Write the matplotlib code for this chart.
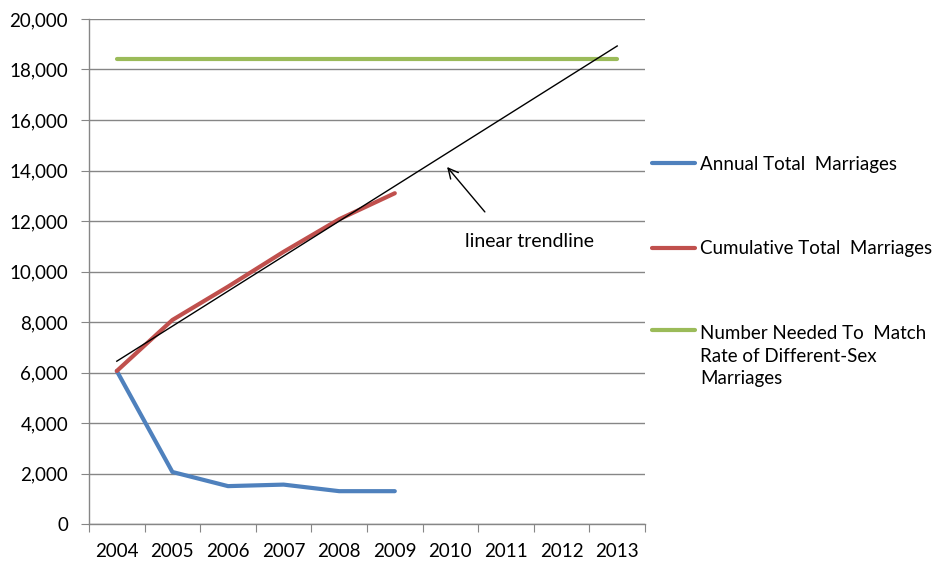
import numpy as np
import matplotlib
matplotlib.use('Agg')
import matplotlib.pyplot as plt
from matplotlib.legend_handler import HandlerLine2D
from matplotlib.ticker import FuncFormatter

years = ['2004', '2005', '2006', '2007', '2008', '2009',
         '2010', '2011', '2012', '2013']
annual = [6060, 2060, 1500, 1560, 1300, 1300]
cumulative = [6060, 8080, 9400, 10780, 12070, 13100]
needed = [18420] * 10

blue = '#4F81BD'
red = '#C0504D'
green = '#9BBB59'
grid_col = '#868686'
fs = 13.5

plt.rcParams['font.family'] = ['Lato', 'DejaVu Sans']
plt.rcParams['font.size'] = fs

fig = plt.figure(figsize=(9.36, 5.61), dpi=100)
ax = fig.add_axes([89/936, 37/561, 556/936, 505/561])

x_all = np.arange(len(years))
x_data = np.arange(len(annual))

# linear trendline of the cumulative series, forecast to 2013
coef = np.polyfit(x_data, cumulative, 1)
trend = np.polyval(coef, x_all)

ax.plot(x_all, trend, color='black', lw=1, zorder=4)
l_ann, = ax.plot(x_data, annual, color=blue, lw=3, solid_capstyle='round',
                 solid_joinstyle='round', label='Annual Total  Marriages', zorder=3)
l_cum, = ax.plot(x_data, cumulative, color=red, lw=3, solid_capstyle='round',
                 solid_joinstyle='round', label='Cumulative Total  Marriages', zorder=3)
l_need, = ax.plot(x_all, needed, color=green, lw=3, solid_capstyle='round',
                  label='Number Needed To  Match\nRate of Different-Sex\nMarriages', zorder=3)

ax.annotate('', xy=(5.94, 14140), xytext=(6.62, 12360),
            arrowprops=dict(arrowstyle='->', color='black', lw=1,
                            mutation_scale=18, shrinkA=0, shrinkB=0))
ax.text(7.43, 11170, 'linear trendline', ha='center', va='center', fontsize=14)

ax.set_xlim(-0.5, 9.5)
ax.set_ylim(0, 20000)
ax.set_xticks(np.arange(-0.5, 10, 1))
ax.set_xticklabels([])
ax.set_xticks(x_all, minor=True)
ax.set_xticklabels(years, minor=True)
ax.tick_params(axis='x', which='major', length=6, color=grid_col, direction='out')
ax.tick_params(axis='x', which='minor', length=0, pad=14, labelsize=fs)
ax.set_yticks(np.arange(0, 20001, 2000))
ax.yaxis.set_major_formatter(FuncFormatter(lambda v, p: f'{int(v):,}'))
ax.tick_params(axis='y', length=6, color=grid_col, pad=9, labelsize=fs)
ax.yaxis.grid(True, color=grid_col, lw=1)
ax.set_axisbelow(True)

for s in ['top', 'right']:
    ax.spines[s].set_visible(False)
for s in ['left', 'bottom']:
    ax.spines[s].set_color(grid_col)
    ax.spines[s].set_linewidth(1)

line_sp = 1.42


def lift_handle(legend_handle, orig_handle):
    # put the legend line at the first row of the wrapped label
    legend_handle.update_from(orig_handle)
    legend_handle.set_ydata(np.asarray(legend_handle.get_ydata()) + line_sp * fs)


leg = ax.legend(handles=[l_ann, l_cum, l_need], loc='center left',
                bbox_to_anchor=(1.0, 0.5), frameon=False, fontsize=fs,
                handlelength=2.3, handletextpad=0.27, labelspacing=3.6,
                borderpad=0, borderaxespad=0.37,
                handler_map={l_need: HandlerLine2D(update_func=lift_handle)})
for t in leg.get_texts():
    t.set_linespacing(line_sp)

fig.savefig('out.png', dpi=100)
